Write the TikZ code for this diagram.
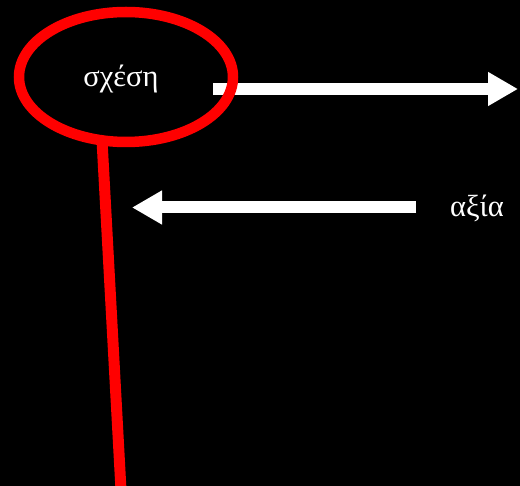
\documentclass[tikz,border=0pt]{standalone}
\usepackage{fontspec}
\setmainfont{Liberation Serif}
\usetikzlibrary{shapes.geometric,arrows.meta}
\begin{document}
\begin{tikzpicture}[x=1pt,y=-1pt,
  ring/.style={draw=red,ellipse,line width=10.5pt,minimum width=214pt,minimum height=130pt,inner sep=0pt},
  bigarrow/.style={white,line width=12pt,-{Triangle[length=30pt,width=32pt]}},
  word/.style={text=white,font=\fontsize{30.5}{33}\selectfont,inner sep=0pt}]
  % canvas
  \fill[black] (0,0) rectangle (520,486);
  \useasboundingbox (0,0) rectangle (520,486);
  % arrow anchors
  \coordinate (a1s) at (213,89);
  \coordinate (a1e) at (518,89);
  \coordinate (a2s) at (416,207.5);
  \coordinate (a2e) at (132,207.5);
  \coordinate (stemtop) at (102,140);
  \coordinate (stembot) at (121,490);
  % stem and arrows under the ring
  \draw[red,line width=11pt] (stemtop) -- (stembot);
  \draw[bigarrow] (a1s) -- (a1e);
  \draw[bigarrow] (a2s) -- (a2e);
  % ring with its label
  \node[ring] (rel) at (126,77) {};
  \node[word] (reltext) at (121,79) {σχέση};
  \node[word] (val) at (477,208) {αξία};
\end{tikzpicture}
\end{document}
